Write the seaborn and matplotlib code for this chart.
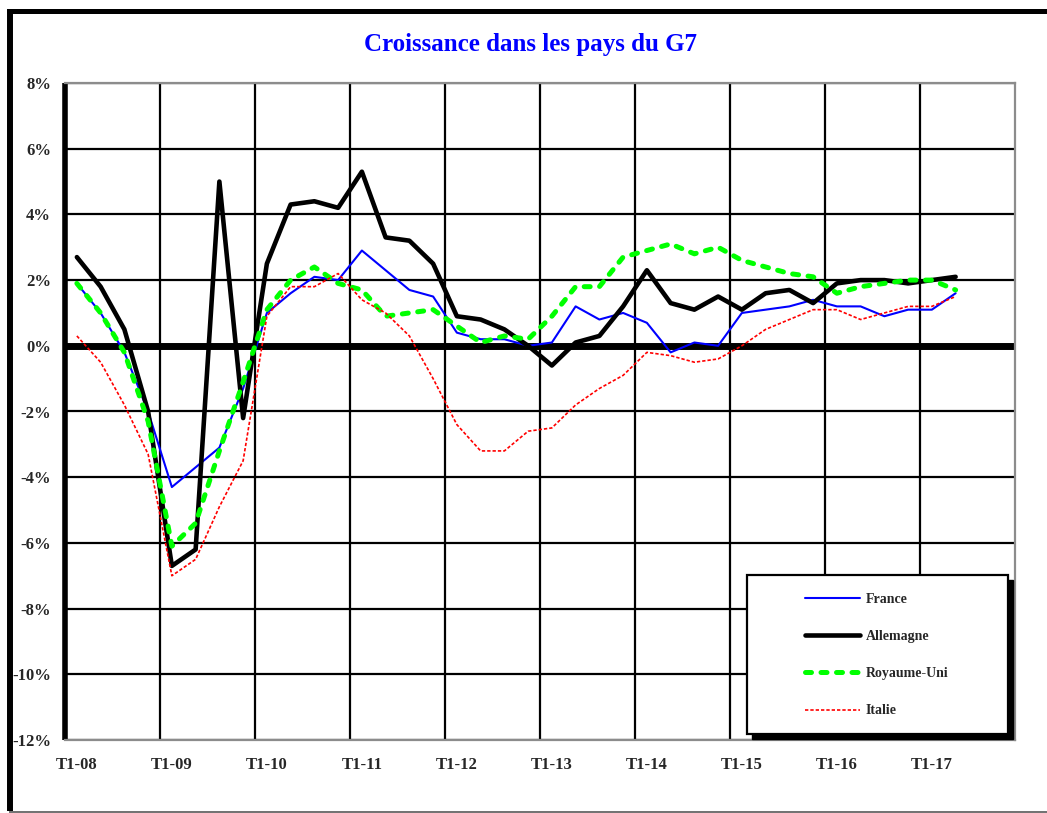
import numpy as np
import pandas as pd
import matplotlib
matplotlib.use("Agg")
import matplotlib.pyplot as plt
import seaborn as sns
from matplotlib.lines import Line2D
from matplotlib.patches import Rectangle

# trimestres T1-08 ... T2-17
annees = ["08", "09", "10", "11", "12", "13", "14", "15", "16", "17"]
trimestres = [f"T{q}-{a}" for a in annees for q in (1, 2, 3, 4)][:38]

# croissance en glissement annuel (%)
france = [1.9, 1.0, -0.2, -2.0, -4.3, -3.7, -3.1, -1.3, 1.0, 1.6, 2.1, 2.0, 2.9, 2.3, 1.7, 1.5, 0.4, 0.2, 0.2, 0.0,
          0.1, 1.2, 0.8, 1.0, 0.7, -0.2, 0.1, 0.0, 1.0, 1.1, 1.2, 1.4, 1.2, 1.2, 0.9, 1.1, 1.1, 1.6]
allemagne = [2.7, 1.8, 0.5, -2.0, -6.7, -6.2, 5.0, -2.2, 2.5, 4.3, 4.4, 4.2, 5.3, 3.3, 3.2, 2.5, 0.9, 0.8, 0.5, 0.0,
             -0.6, 0.1, 0.3, 1.2, 2.3, 1.3, 1.1, 1.5, 1.1, 1.6, 1.7, 1.3, 1.9, 2.0, 2.0, 1.9, 2.0, 2.1]
royaume_uni = [1.9, 1.0, -0.2, -2.3, -6.1, -5.4, -3.2, -1.1, 1.1, 2.0, 2.4, 1.9, 1.7, 0.9, 1.0, 1.1, 0.6, 0.1, 0.3, 0.2,
               0.9, 1.8, 1.8, 2.7, 2.9, 3.1, 2.8, 3.0, 2.6, 2.4, 2.2, 2.1, 1.6, 1.8, 1.9, 2.0, 2.0, 1.7]
italie = [0.3, -0.5, -1.8, -3.3, -7.0, -6.5, -4.9, -3.5, 0.9, 1.8, 1.8, 2.2, 1.4, 1.0, 0.3, -1.0, -2.4, -3.2, -3.2, -2.6,
          -2.5, -1.8, -1.3, -0.9, -0.2, -0.3, -0.5, -0.4, 0.0, 0.5, 0.8, 1.1, 1.1, 0.8, 1.0, 1.2, 1.2, 1.5]

df = pd.DataFrame({
    "idx": np.arange(len(trimestres)),
    "Trimestre": trimestres,
    "France": france,
    "Allemagne": allemagne,
    "Royaume-Uni": royaume_uni,
    "Italie": italie,
})
df_long = df.melt(id_vars=["idx", "Trimestre"], var_name="Pays", value_name="Croissance")

styles = {
    "France": dict(color="#0000FF", lw=1.5, ls="-"),
    "Allemagne": dict(color="black", lw=3.3, ls="-"),
    "Royaume-Uni": dict(color="#00FF00", lw=3.6, ls=(0, (1.2, 1.9))),
    "Italie": dict(color="#FF0000", lw=1.2, ls=(0, (2.0, 1.2))),
}

sns.set_theme(style="white")
plt.rcParams["font.family"] = ["Liberation Serif", "DejaVu Serif"]
plt.rcParams["font.weight"] = "bold"

fig = plt.figure(figsize=(10.47, 8.13), dpi=100)
ax = fig.add_axes([65 / 1047, 1 - 740 / 813, 950 / 1047, 657 / 813])

for pays, st in styles.items():
    sub = df_long[df_long["Pays"] == pays]
    sns.lineplot(data=sub, x="idx", y="Croissance", ax=ax, color=st["color"],
                 linewidth=st["lw"], linestyle=st["ls"], label=pays, zorder=3)

for line in ax.get_lines():
    if line.get_label() == "Royaume-Uni":
        line.set_dash_capstyle("round")

ax.set_xlim(-0.5, 39.5)
ax.set_ylim(-12, 8)
ax.set_yticks(range(-12, 9, 2))
ax.set_yticklabels([f"{v}%" for v in range(-12, 9, 2)], fontsize=12, fontweight="bold")
ax.set_xticks(range(0, 38, 4))
ax.set_xticklabels(trimestres[::4], fontsize=12, fontweight="bold")
ax.set_xticks(np.arange(3.5, 39, 4), minor=True)
ax.tick_params(which="both", length=0)
ax.tick_params(axis="y", pad=10)
ax.tick_params(axis="x", pad=12)
ax.set_xlabel("")
ax.set_ylabel("")

ax.grid(axis="y", which="major", color="black", lw=1.6)
ax.grid(axis="x", which="minor", color="black", lw=1.6)
ax.grid(axis="x", which="major", visible=False)
ax.axhline(0, color="black", lw=5, zorder=1.5)

for s in ["top", "right", "bottom"]:
    ax.spines[s].set_color("#8c8c8c")
    ax.spines[s].set_linewidth(1.6)
ax.spines["left"].set_color("black")
ax.spines["left"].set_linewidth(4)
ax.spines["left"].set_capstyle("butt")

# cadre de la légende avec ombre
x0, x1 = (747 - 65) / 950, (1008 - 65) / 950
y0, y1 = (740 - 734) / 657, (740 - 575) / 657
ax.add_patch(Rectangle((x0 + 5 / 950, y0 - 5 / 657), x1 - x0, y1 - y0, transform=ax.transAxes,
                       facecolor="black", edgecolor="black", clip_on=False, zorder=4))
ax.add_patch(Rectangle((x0, y0), x1 - x0, y1 - y0, transform=ax.transAxes,
                       facecolor="white", edgecolor="black", lw=1.6, clip_on=False, zorder=4.1))
leg = ax.legend(loc="center left", bbox_to_anchor=((805 - 65) / 950, (740 - 655) / 657),
                frameon=False, fontsize=10, handlelength=3.95, handletextpad=0.4,
                labelspacing=1.75, borderpad=0, borderaxespad=0)
leg.set_zorder(5)
for t in leg.get_texts():
    t.set_fontweight("bold")

fig.text(0.507, 1 - 44 / 813, "Croissance dans les pays du G7", ha="center", va="center",
         fontsize=18, fontweight="bold", color="#0000FF")

# cadre de la figure
fig.add_artist(Line2D([7 / 1047, 1], [1 - 11.5 / 813] * 2, transform=fig.transFigure,
                      color="black", lw=3.6, solid_capstyle="butt"))
fig.add_artist(Line2D([10 / 1047] * 2, [1 - 9 / 813, 1 - 811 / 813], transform=fig.transFigure,
                      color="black", lw=4.3, solid_capstyle="butt"))
fig.add_artist(Line2D([9 / 1047, 1], [1 - 811.5 / 813] * 2, transform=fig.transFigure,
                      color="#666666", lw=1.3, solid_capstyle="butt"))

fig.savefig("out.png", dpi=100)
plt.close(fig)
